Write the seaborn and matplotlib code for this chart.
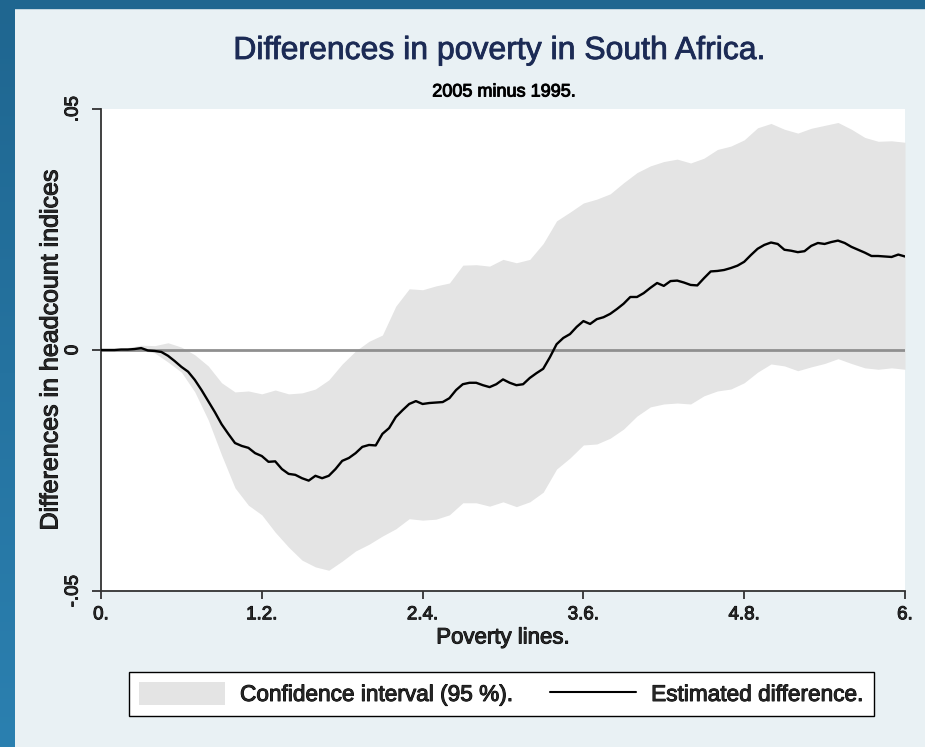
import numpy as np
import pandas as pd
import seaborn as sns
import matplotlib.pyplot as plt
import matplotlib.patheffects as pe
from matplotlib.patches import Patch, Rectangle
from matplotlib.lines import Line2D
from matplotlib.colors import LinearSegmentedColormap

#### Data
# estimated difference, poverty lines 0..6 step .05
line_x = np.round(np.arange(0, 6.001, 0.05), 2)
est_diff = [
    0.0000, 0.0000, 0.0000, 0.0001, 0.0001, 0.0002, 0.0004, -0.0001, -0.0002, -0.0004,
    -0.0012, -0.0023, -0.0035, -0.0045, -0.0062, -0.0083, -0.0106, -0.0129, -0.0154, -0.0174,
    -0.0193, -0.0199, -0.0203, -0.0214, -0.0220, -0.0232, -0.0231, -0.0247, -0.0257, -0.0259,
    -0.0266, -0.0271, -0.0261, -0.0266, -0.0261, -0.0247, -0.0230, -0.0224, -0.0214, -0.0201,
    -0.0197, -0.0198, -0.0174, -0.0162, -0.0139, -0.0125, -0.0112, -0.0106, -0.0112, -0.0110,
    -0.0109, -0.0108, -0.0100, -0.0083, -0.0071, -0.0068, -0.0068, -0.0073, -0.0077, -0.0071,
    -0.0061, -0.0068, -0.0073, -0.0071, -0.0058, -0.0048, -0.0039, -0.0015, 0.0012, 0.0025,
    0.0033, 0.0048, 0.0060, 0.0054, 0.0064, 0.0068, 0.0075, 0.0085, 0.0096, 0.0110,
    0.0110, 0.0118, 0.0129, 0.0139, 0.0133, 0.0143, 0.0144, 0.0140, 0.0135, 0.0134,
    0.0149, 0.0163, 0.0164, 0.0166, 0.0170, 0.0175, 0.0183, 0.0197, 0.0210, 0.0218,
    0.0223, 0.0220, 0.0208, 0.0206, 0.0203, 0.0205, 0.0216, 0.0222, 0.0220, 0.0224,
    0.0227, 0.0222, 0.0214, 0.0208, 0.0202, 0.0195, 0.0195, 0.0194, 0.0193, 0.0198,
    0.0194,
]

# confidence interval bounds, poverty lines 0..6 step .1
ci_x = np.round(np.arange(0, 6.001, 0.1), 1)
ci_upper = [
    0.0000, 0.0001, 0.0005, 0.0010, 0.0009, 0.0015, 0.0006, -0.0010, -0.0033, -0.0068,
    -0.0087, -0.0085, -0.0091, -0.0083, -0.0091, -0.0089, -0.0081, -0.0062, -0.0029, -0.0002,
    0.0018, 0.0031, 0.0091, 0.0127, 0.0125, 0.0133, 0.0139, 0.0176, 0.0177, 0.0174,
    0.0188, 0.0181, 0.0188, 0.0221, 0.0268, 0.0286, 0.0305, 0.0313, 0.0324, 0.0347,
    0.0368, 0.0382, 0.0391, 0.0396, 0.0388, 0.0398, 0.0416, 0.0423, 0.0436, 0.0461,
    0.0470, 0.0458, 0.0450, 0.0460, 0.0466, 0.0472, 0.0458, 0.0441, 0.0433, 0.0434,
    0.0431,
]
ci_lower = [
    0.0000, -0.0001, -0.0002, -0.0001, -0.0006, -0.0025, -0.0046, -0.0087, -0.0145, -0.0218,
    -0.0286, -0.0322, -0.0342, -0.0378, -0.0409, -0.0436, -0.0450, -0.0457, -0.0438, -0.0417,
    -0.0403, -0.0386, -0.0371, -0.0350, -0.0353, -0.0351, -0.0342, -0.0317, -0.0317, -0.0324,
    -0.0315, -0.0325, -0.0315, -0.0295, -0.0247, -0.0224, -0.0197, -0.0195, -0.0183, -0.0164,
    -0.0137, -0.0118, -0.0112, -0.0110, -0.0112, -0.0095, -0.0085, -0.0081, -0.0068, -0.0046,
    -0.0029, -0.0033, -0.0043, -0.0035, -0.0028, -0.0018, -0.0028, -0.0037, -0.0040, -0.0037,
    -0.0040,
]

x_ticks = [0, 1.2, 2.4, 3.6, 4.8, 6]
x_tick_labels = ["0.", "1.2.", "2.4.", "3.6.", "4.8.", "6."]
y_ticks = [-0.05, 0, 0.05]
y_tick_labels = ["-.05", "0", ".05"]

df_line = pd.DataFrame({"poverty_line": line_x, "diff": est_diff})

#### Style
sns.set_theme(style="white")
plt.rcParams['font.family'] = ['Liberation Sans', 'DejaVu Sans']

bg = '#e9f1f4'
frame_top = '#1f6690'
frame_bottom = '#2b80b0'
# slightly heavier strokes, like the original export
heavy = [pe.withStroke(linewidth=0.7, foreground='black')]

fig = plt.figure(figsize=(9.25, 7.47), dpi=100, facecolor=bg)

# blue frame: strip on the left (gradient) and on top
strip = fig.add_axes([0, 0, 15 / 925, 1])
grad_cmap = LinearSegmentedColormap.from_list("frame", [frame_top, frame_bottom])
strip.imshow(np.linspace(0, 1, 256).reshape(-1, 1), aspect='auto', cmap=grad_cmap)
strip.axis('off')
fig.patches.append(Rectangle((0, 1 - 8 / 747), 1, 8 / 747,
                             transform=fig.transFigure, color=frame_top, zorder=5))

# plot region
ax = fig.add_axes([101 / 925, (747 - 591) / 747, 804 / 925, 482 / 747])
ax.set_facecolor('white')

ax.fill_between(ci_x, ci_lower, ci_upper, color='#e4e4e4', linewidth=0, zorder=1)
ax.axhline(0, color='#8f8f8f', lw=2, zorder=2)
sns.lineplot(data=df_line, x="poverty_line", y="diff", color='black', lw=1.7,
             ax=ax, zorder=3)

ax.set_xlim(0, 6)
ax.set_ylim(-0.05, 0.05)
ax.set_xticks(x_ticks)
ax.set_xticklabels(x_tick_labels, fontsize=13.5)
ax.set_yticks(y_ticks)
ax.set_yticklabels(y_tick_labels, fontsize=13.5, rotation=90, va='center')
ax.tick_params(axis='x', length=6, width=1.2, color='#222222', pad=5, bottom=True)
ax.tick_params(axis='y', length=6.5, width=1.2, color='#222222', pad=7.5, left=True)
for t in ax.get_xticklabels() + ax.get_yticklabels():
    t.set_path_effects(heavy)

for side in ['top', 'right']:
    ax.spines[side].set_visible(False)
for side in ['left', 'bottom']:
    ax.spines[side].set_color('#333333')
    ax.spines[side].set_linewidth(1.3)

ax.set_xlabel("Poverty lines.", fontsize=16, labelpad=3, path_effects=heavy)
ax.set_ylabel("Differences in headcount indices", fontsize=18, labelpad=1.5,
              path_effects=heavy)

# titles
fig.text(500 / 925, 1 - 51 / 747, "Differences in poverty in South Africa.",
         ha='center', va='center', fontsize=23, color='#1c2b55',
         path_effects=[pe.withStroke(linewidth=0.6, foreground='#1c2b55')])
fig.text(504 / 925, 1 - 92 / 747, "2005 minus 1995.",
         ha='center', va='center', fontsize=13, color='black', path_effects=heavy)

# legend
handles = [Patch(facecolor='#e4e4e4', edgecolor='none'),
           Line2D([0], [0], color='black', lw=1.5)]
labels = ["Confidence interval (95 %).", "Estimated difference."]
leg = fig.legend(handles, labels, loc='center', ncol=2,
                 bbox_to_anchor=(501.5 / 925, 1 - 694 / 747),
                 fontsize=16.3, frameon=True, fancybox=False,
                 handlelength=3.8, handleheight=1.15, handletextpad=0.65,
                 columnspacing=1.65, borderpad=0.45)
leg.get_frame().set_edgecolor('black')
leg.get_frame().set_linewidth(1.0)
leg.get_frame().set_facecolor('white')
leg.get_frame().set_alpha(1)
for t in leg.get_texts():
    t.set_path_effects(heavy)

fig.savefig("out.png", dpi=100, facecolor=fig.get_facecolor())
